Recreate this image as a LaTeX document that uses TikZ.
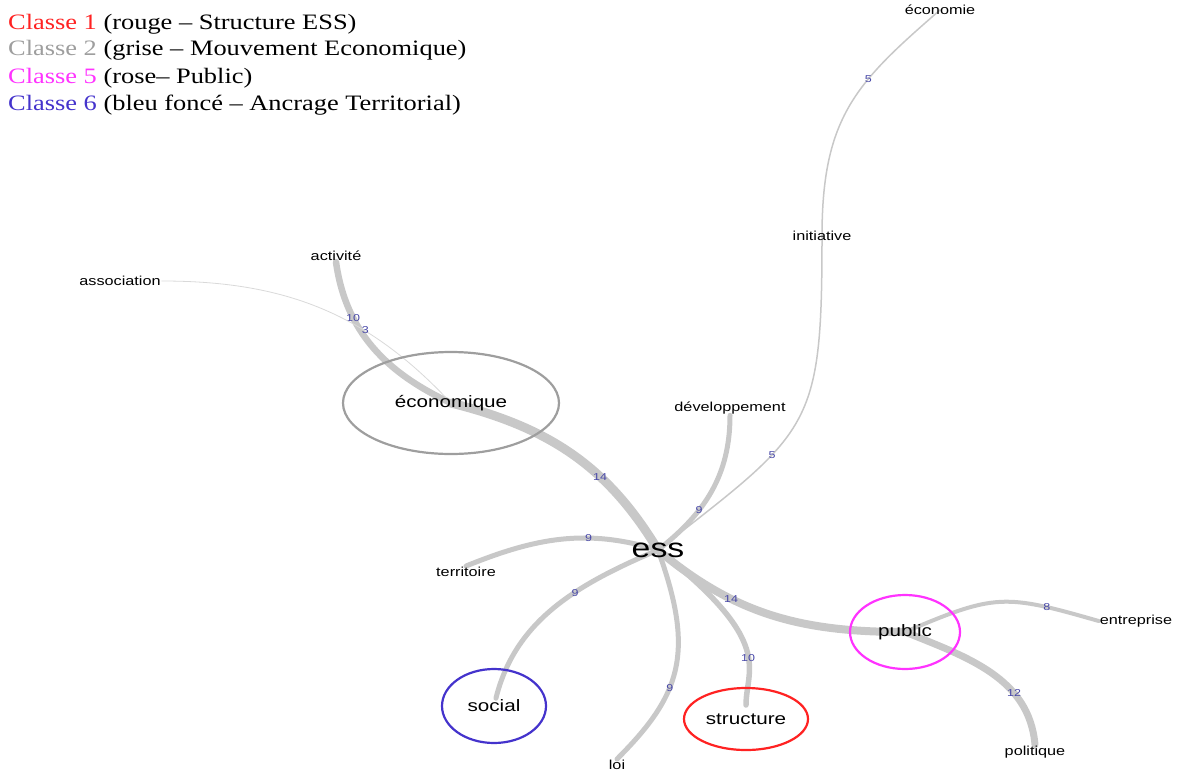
\documentclass[tikz,border=0pt]{standalone}
\usepackage{fontspec}
\setmainfont{Liberation Serif}[FakeStretch=1.2]
\newfontfamily\wordfont{Liberation Sans}[FakeStretch=1.25]
\usetikzlibrary{shapes.geometric,backgrounds}

\definecolor{clred}{HTML}{FF2222}
\definecolor{clgray}{HTML}{9E9E9E}
\definecolor{clpink}{HTML}{FF33FF}
\definecolor{clblue}{HTML}{4433CC}
\definecolor{linkgray}{HTML}{C8C8C8}
\definecolor{numblue}{HTML}{4848A8}

\begin{document}
\begin{tikzpicture}[x=1pt,y=1pt,
    word/.style={font=\wordfont\fontsize{13}{15}\selectfont,inner sep=1pt},
    class node/.style={ellipse,draw,line width=2.2pt,inner sep=0pt,
                       font=\wordfont\fontsize{16.5}{18}\selectfont},
    num/.style={font=\wordfont\fontsize{10}{11}\selectfont,text=numblue,inner sep=0pt},
    link/.style={draw=linkgray,line cap=round},
    legend/.style={anchor=base west,inner sep=0pt,font=\fontsize{22}{26}\selectfont}]
  \useasboundingbox (0,0) rectangle (1180,-771);

  % legend
  \node[legend] (cl1) at (8,-29) {\textcolor{clred}{Classe 1} (rouge – Structure ESS)};
  \node[legend] (cl2) at (8,-55) {\textcolor{clgray}{Classe 2} (grise – Mouvement Economique)};
  \node[legend] (cl5) at (8,-83) {\textcolor{clpink}{Classe 5} (rose– Public)};
  \node[legend] (cl6) at (8,-110) {\textcolor{clblue}{Classe 6} (bleu foncé – Ancrage Territorial)};

  % words
  \node[font=\wordfont\fontsize{27}{30}\selectfont,inner sep=0pt] (ess) at (658,-550) {ess};
  \node[class node,draw=clgray,minimum width=216,minimum height=102] (eco) at (451,-403) {économique};
  \node[class node,draw=clblue,minimum width=104,minimum height=74] (social) at (494,-706) {social};
  \node[class node,draw=clred,minimum width=124,minimum height=62] (struct) at (746,-719) {structure};
  \node[class node,draw=clpink,minimum width=110,minimum height=74] (public) at (905,-632) {public};
  \node[word] (act) at (336,-256) {activité};
  \node[word] (assoc) at (120,-281) {association};
  \node[word] (econ) at (940,-10) {économie};
  \node[word] (init) at (822,-236) {initiative};
  \node[word] (dev) at (730,-408) {développement};
  \node[word] (terr) at (466,-572) {territoire};
  \node[word] (loi) at (617,-765) {loi};
  \node[word] (entr) at (1136,-621) {entreprise};
  \node[word] (pol) at (1035,-752) {politique};

  \begin{scope}[on background layer]
  \path (ess.center) edge[link,line width=9pt,out=121,in=-14] node[num,pos=.35] {14} (eco.center)
        (eco.center) edge[link,line width=6.5pt,out=155,in=-82] node[num,pos=.7] {10} (act.south)
        (assoc.east) edge[link,line width=.8pt,draw=linkgray!70,out=0,in=133] node[num,pos=.66,xshift=1pt] {3} (eco.center)
        (ess.center) edge[link,line width=5pt,out=38,in=-90] node[num,pos=.35] {9} (dev.south)
        (ess.center) edge[link,line width=1.5pt,out=38,in=-90,looseness=1.4] node[num,pos=.35] {5} (init.center)
        (init.center) edge[link,line width=1.5pt,out=90,in=221,out distance=120,in distance=110] node[num,pos=.64] {5} (econ.center)
        (ess.center) edge[link,line width=5pt,out=163,in=22] node[num,pos=.35] {9} (terr.north)
        (ess.center) edge[link,line width=5pt,out=203,in=76,shorten >=8pt] node[num,pos=.38] {9} (social.center)
        (ess.center) edge[link,line width=5pt,out=-70,in=45,out distance=110,in distance=90] node[num,pos=.6] {9} (loi.north)
        (ess.center) edge[link,line width=8pt,out=-40,in=180] node[num,pos=.32] {14} (public.center)
        (ess.center) edge[link,line width=5.5pt,out=-38,in=90,out distance=150,in distance=50,shorten >=14pt] node[num,pos=.55] {10} (struct.center)
        (public.center) edge[link,line width=4pt,out=23,in=164,looseness=1.3] node[num,pos=.78] {8} (entr.west)
        (public.center) edge[link,line width=7pt,out=-22,in=95] node[num,pos=.68] {12} (pol.north);
  \end{scope}
\end{tikzpicture}
\end{document}
